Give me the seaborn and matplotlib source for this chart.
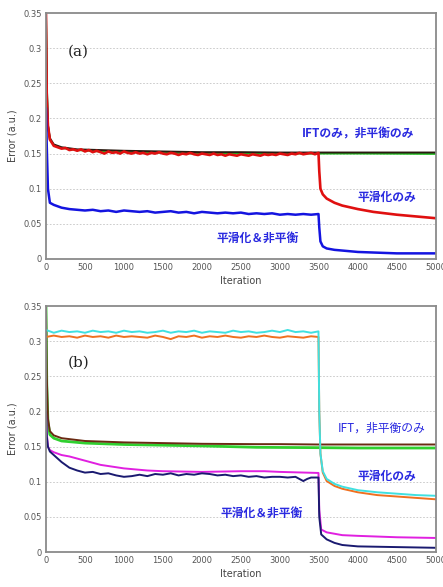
import numpy as np
import pandas as pd
import matplotlib
matplotlib.use("Agg")
import matplotlib.pyplot as plt
import seaborn as sns

# ---- panel (a) ----
a_iter_smooth = [0, 10, 25, 50, 100, 200, 400, 700, 1000, 1500, 2000, 2500, 3000, 3500, 4000, 4500, 5000]
a_black = [0.35, 0.25, 0.19, 0.172, 0.163, 0.159, 0.156, 0.155, 0.154, 0.153, 0.152, 0.152, 0.1515, 0.1515, 0.1515, 0.1515, 0.1515]
a_green = [0.35, 0.25, 0.19, 0.170, 0.162, 0.158, 0.155, 0.153, 0.152, 0.151, 0.150, 0.150, 0.150, 0.150, 0.150, 0.1498, 0.1495]

a_iter_red = [0, 10, 25, 50, 100, 150, 200, 250, 300, 350, 400, 450, 500, 550, 600, 650, 700, 750, 800,
              850, 900, 950, 1000, 1050, 1100, 1150, 1200, 1250, 1300, 1350, 1400, 1450, 1500, 1550, 1600,
              1650, 1700, 1750, 1800, 1850, 1900, 1950, 2000, 2050, 2100, 2150, 2200, 2250, 2300, 2350, 2400,
              2450, 2500, 2550, 2600, 2650, 2700, 2750, 2800, 2850, 2900, 2950, 3000, 3050, 3100, 3150, 3200,
              3250, 3300, 3350, 3400, 3450, 3495, 3505, 3520, 3550, 3600, 3700, 3800, 4000, 4200, 4500, 4800, 5000]
a_red = [0.35, 0.23, 0.19, 0.17, 0.161, 0.159, 0.157, 0.158, 0.155, 0.156, 0.154, 0.156, 0.153, 0.155, 0.152, 0.154, 0.152,
         0.150, 0.153, 0.151, 0.152, 0.150, 0.153, 0.151, 0.150, 0.152, 0.150, 0.151, 0.149, 0.151, 0.150, 0.152, 0.150,
         0.149, 0.151, 0.150, 0.148, 0.150, 0.149, 0.151, 0.149, 0.148, 0.150, 0.149, 0.148, 0.150, 0.148, 0.149, 0.147,
         0.149, 0.148, 0.147, 0.149, 0.148, 0.147, 0.149, 0.148, 0.147, 0.149, 0.148, 0.149, 0.148, 0.150, 0.149, 0.148,
         0.150, 0.149, 0.151, 0.149, 0.150, 0.151, 0.149, 0.151, 0.125, 0.100, 0.092, 0.086, 0.080, 0.076, 0.071, 0.067,
         0.063, 0.060, 0.058]

a_iter_blue = [0, 10, 25, 50, 100, 200, 300, 400, 500, 600, 700, 800, 900, 1000, 1100, 1200, 1300, 1400, 1500,
               1600, 1700, 1800, 1900, 2000, 2100, 2200, 2300, 2400, 2500, 2600, 2700, 2800, 2900, 3000, 3100,
               3200, 3300, 3400, 3495, 3505, 3520, 3550, 3600, 3700, 3800, 4000, 4500, 5000]
a_blue = [0.215, 0.16, 0.10, 0.080, 0.077, 0.073, 0.071, 0.070, 0.069, 0.070, 0.068, 0.069, 0.067, 0.069, 0.068, 0.067,
          0.068, 0.066, 0.067, 0.068, 0.066, 0.067, 0.065, 0.067, 0.066, 0.065, 0.066, 0.065, 0.066, 0.064, 0.065,
          0.064, 0.065, 0.063, 0.064, 0.063, 0.064, 0.063, 0.064, 0.045, 0.025, 0.018, 0.015, 0.013, 0.012, 0.010,
          0.008, 0.008]

# ---- panel (b) ----
b_iter_top = [0, 100, 200, 300, 400, 500, 600, 700, 800, 900, 1000, 1100, 1200, 1300, 1400, 1500, 1600, 1700,
              1800, 1900, 2000, 2100, 2200, 2300, 2400, 2500, 2600, 2700, 2800, 2900, 3000, 3100, 3200, 3300,
              3400, 3495, 3505, 3520, 3550, 3600, 3700, 3800, 4000, 4250, 4500, 4750, 5000]
b_cyan = [0.316, 0.312, 0.315, 0.313, 0.314, 0.312, 0.315, 0.313, 0.314, 0.312, 0.315, 0.313, 0.314, 0.312, 0.313,
          0.315, 0.312, 0.314, 0.313, 0.315, 0.312, 0.314, 0.313, 0.312, 0.315, 0.313, 0.314, 0.312, 0.313, 0.315,
          0.313, 0.316, 0.313, 0.314, 0.312, 0.314, 0.200, 0.140, 0.115, 0.104, 0.097, 0.093, 0.088, 0.085, 0.083,
          0.081, 0.080]
b_orange = [0.306, 0.308, 0.306, 0.307, 0.305, 0.308, 0.306, 0.307, 0.305, 0.308, 0.306, 0.307, 0.306, 0.305, 0.308,
            0.306, 0.303, 0.307, 0.306, 0.308, 0.305, 0.307, 0.306, 0.308, 0.306, 0.305, 0.307, 0.306, 0.308, 0.306,
            0.305, 0.307, 0.306, 0.305, 0.307, 0.306, 0.200, 0.140, 0.113, 0.101, 0.094, 0.090, 0.085, 0.081, 0.079,
            0.077, 0.075]

b_iter_smooth = [0, 10, 25, 50, 100, 200, 500, 1000, 1500, 2000, 2700, 3000, 3500, 4000, 5000]
b_brown = [0.35, 0.25, 0.19, 0.172, 0.166, 0.162, 0.158, 0.156, 0.155, 0.154, 0.1535, 0.1535, 0.153, 0.153, 0.153]
b_green = [0.35, 0.24, 0.185, 0.167, 0.162, 0.158, 0.155, 0.153, 0.152, 0.151, 0.149, 0.1488, 0.1485, 0.148, 0.148]

b_iter_mag = [0, 10, 25, 50, 100, 200, 300, 500, 700, 1000, 1300, 1500, 2000, 2500, 2800, 3000, 3495, 3505,
              3530, 3600, 3800, 4000, 4500, 5000]
b_magenta = [0.20, 0.17, 0.15, 0.145, 0.142, 0.138, 0.136, 0.130, 0.124, 0.119, 0.116, 0.115, 0.114, 0.115, 0.115,
             0.114, 0.1125, 0.060, 0.032, 0.028, 0.024, 0.023, 0.021, 0.020]

b_iter_navy = [0, 10, 25, 50, 100, 200, 300, 400, 500, 600, 700, 800, 900, 1000, 1100, 1200, 1300, 1400, 1500,
               1600, 1700, 1800, 1900, 2000, 2100, 2200, 2300, 2400, 2500, 2600, 2700, 2800, 2900, 3000, 3100,
               3200, 3300, 3350, 3400, 3495, 3505, 3530, 3600, 3700, 3800, 4000, 4500, 5000]
b_navy = [0.20, 0.165, 0.15, 0.143, 0.138, 0.128, 0.120, 0.116, 0.113, 0.114, 0.111, 0.112, 0.109, 0.107, 0.108,
          0.110, 0.108, 0.111, 0.110, 0.112, 0.109, 0.111, 0.110, 0.112, 0.111, 0.109, 0.110, 0.108, 0.109, 0.107,
          0.108, 0.106, 0.107, 0.107, 0.106, 0.107, 0.101, 0.104, 0.106, 0.106, 0.050, 0.025, 0.018, 0.013, 0.010,
          0.008, 0.007, 0.006]

x_ticks = [0, 500, 1000, 1500, 2000, 2500, 3000, 3500, 4000, 4500, 5000]
y_ticks = [0, 0.05, 0.1, 0.15, 0.2, 0.25, 0.3, 0.35]
y_tick_labels = ["0", "0.05", "0.1", "0.15", "0.2", "0.25", "0.3", "0.35"]

JP = ["Noto Sans CJK JP", "DejaVu Sans"]
ANNOT_BLUE = "#2a2ae0"

sns.set_theme(style="white")
plt.rcParams["font.family"] = ["DejaVu Sans", "Noto Sans CJK JP"]

fig = plt.figure(figsize=(4.43, 5.87), dpi=100)
ax_a = fig.add_axes([0.1038, 0.5588, 0.880, 0.419])
ax_b = fig.add_axes([0.1038, 0.0596, 0.880, 0.419])


def line(ax, x, y, color, lw=1.2):
    sns.lineplot(x=x, y=y, ax=ax, color=color, linewidth=lw, sort=False, estimator=None)


def style_axes(ax, label, label_y):
    ax.set_xlim(0, 5000)
    ax.set_ylim(0, 0.35)
    ax.set_xticks(x_ticks)
    ax.set_xticklabels([str(t) for t in x_ticks])
    ax.set_yticks(y_ticks)
    ax.set_yticklabels(y_tick_labels)
    ax.tick_params(axis="both", labelsize=6, labelcolor="#555555", colors="#777777",
                   direction="in", length=2.5, width=0.6, pad=3)
    ax.tick_params(axis="y", length=0)
    for yv in y_ticks[1:-1]:
        ax.axhline(yv, color="#c4c4c4", linestyle=(0, (2, 2)), linewidth=0.6, zorder=0)
    for sp in ax.spines.values():
        sp.set_color("#8a8a8a")
        sp.set_linewidth(1.3)
    ax.set_xlabel("Iteration", fontsize=7, color="#444444", labelpad=3)
    ax.set_ylabel("Error (a.u.)", fontsize=7, color="#444444", labelpad=4)
    ax.text(282, label_y, label, fontsize=11, family="DejaVu Serif", color="#222222", va="center")


# panel (a)
line(ax_a, a_iter_smooth, a_green, "#22c022", 1.4)
line(ax_a, a_iter_smooth, a_black, "#2a1a10", 1.4)
line(ax_a, a_iter_red, a_red, "#e01010", 1.9)
line(ax_a, a_iter_blue, a_blue, "#1414e0", 1.8)
style_axes(ax_a, "(a)", 0.2945)
ax_a.text(4000, 0.178, "IFTのみ，非平衡のみ", family=JP, fontsize=8.5, fontweight="bold",
          color=ANNOT_BLUE, ha="center", va="center")
ax_a.text(4370, 0.088, "平滑化のみ", family=JP, fontsize=8.5, fontweight="bold",
          color=ANNOT_BLUE, ha="center", va="center")
ax_a.text(2720, 0.030, "平滑化＆非平衡", family=JP, fontsize=8.5, fontweight="bold",
          color=ANNOT_BLUE, ha="center", va="center")

# panel (b)
line(ax_b, b_iter_smooth, b_green, "#30d030", 2.0)
line(ax_b, b_iter_smooth, b_brown, "#6a2a12", 1.4)
line(ax_b, b_iter_top, b_orange, "#f07020", 1.4)
line(ax_b, b_iter_top, b_cyan, "#40e0e0", 1.4)
line(ax_b, b_iter_mag, b_magenta, "#e020e0", 1.4)
line(ax_b, b_iter_navy, b_navy, "#1a1a70", 1.4)
style_axes(ax_b, "(b)", 0.269)
ax_b.text(4300, 0.176, "IFT，非平衡のみ", family=JP, fontsize=8.5,
          color=ANNOT_BLUE, ha="center", va="center")
ax_b.text(4370, 0.108, "平滑化のみ", family=JP, fontsize=8.5, fontweight="bold",
          color=ANNOT_BLUE, ha="center", va="center")
ax_b.text(2770, 0.055, "平滑化＆非平衡", family=JP, fontsize=8.5, fontweight="bold",
          color=ANNOT_BLUE, ha="center", va="center")

fig.savefig("out.png", dpi=100)
